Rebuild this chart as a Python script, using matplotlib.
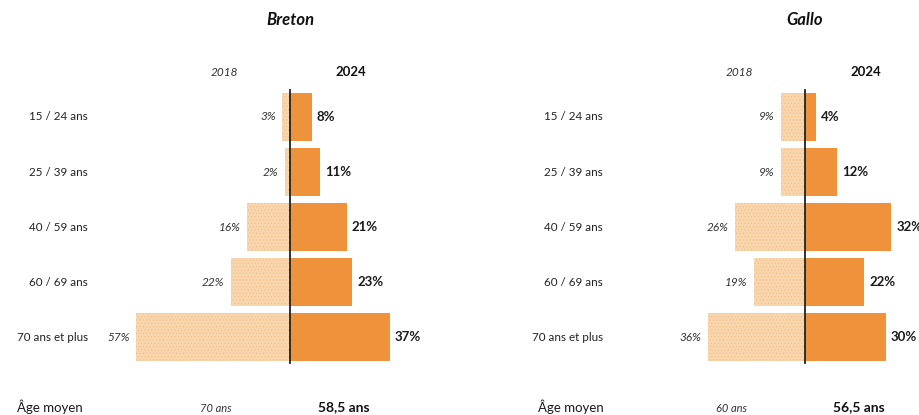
import matplotlib.pyplot as plt

plt.rcParams['font.family'] = ['Lato', 'DejaVu Sans']
plt.rcParams['hatch.linewidth'] = 0.4

age_groups = ['15 / 24 ans', '25 / 39 ans', '40 / 59 ans', '60 / 69 ans', '70 ans et plus']
breton_2018 = [3, 2, 16, 22, 57]
breton_2024 = [8, 11, 21, 23, 37]
gallo_2018 = [9, 9, 26, 19, 36]
gallo_2024 = [4, 12, 32, 22, 30]
age_moyen = {'Breton': ('70 ans', '58,5 ans'), 'Gallo': ('60 ans', '56,5 ans')}

LIGHT = '#F9D5AC'
HATCH = '#F2BE86'
ORANGE = '#EF923C'

W, H = 919, 415
PX = 2.7          # pixels per percent
ROW0, STEP = 117, 55


def py(p):
    # pixel row -> data y
    return (p - ROW0) / STEP


fig = plt.figure(figsize=(W / 100, H / 100), dpi=100)


def panel(x0, x1, zero, title, v18, v24, ages, age_right):
    ax = fig.add_axes([x0 / W, 0, (x1 - x0) / W, 1])
    ax.set_xlim((x0 - zero) / PX, (x1 - zero) / PX)
    ax.set_ylim(py(H), py(0))
    ax.axis('off')

    ys = range(len(age_groups))
    ax.barh(ys, [-v for v in v18], height=0.86, color=LIGHT, edgecolor=HATCH,
            linewidth=0, hatch='.....')
    ax.barh(ys, v24, height=0.86, color=ORANGE, linewidth=0)
    ax.plot([0, 0], [py(90), py(363)], color='#222222', lw=1.3)

    def dx(p):
        return p / PX

    for y, a, b, lab in zip(ys, v18, v24, age_groups):
        ax.text(-a - dx(6), y, f'{a}%', ha='right', va='center',
                fontsize=8.5, style='italic', color='#333333')
        ax.text(b + dx(5), y, f'{b}%', ha='left', va='center',
                fontsize=9.5, fontweight='bold', color='#1a1a1a')
        ax.text(dx(-202), y, lab, ha='right', va='center',
                fontsize=8.4, color='#222222')

    ax.text(0, py(20), title, ha='center', va='center', fontsize=12,
            fontweight='bold', style='italic', color='#111111')
    ax.text(dx(-66), py(72), '2018', ha='center', va='center', fontsize=8.5,
            style='italic', color='#333333')
    ax.text(dx(61), py(72), '2024', ha='center', va='center', fontsize=9.5,
            fontweight='bold', color='#111111')
    ax.text(dx(age_right), py(407), 'Âge moyen', ha='right', va='center',
            fontsize=9.5, color='#1a1a1a')
    ax.text(dx(-74), py(408), ages[0], ha='center', va='center', fontsize=8,
            style='italic', color='#333333')
    ax.text(dx(54), py(407), ages[1], ha='center', va='center', fontsize=10,
            fontweight='bold', color='#111111')


panel(0, 460, 290, 'Breton', breton_2018, breton_2024, age_moyen['Breton'], -207)
panel(460, 919, 805, 'Gallo', gallo_2018, gallo_2024, age_moyen['Gallo'], -201)

fig.savefig('out.png', dpi=100, facecolor='white')
